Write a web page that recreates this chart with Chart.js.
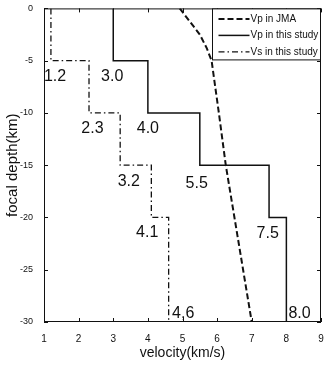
<!DOCTYPE html>
<html>
<head>
<meta charset="utf-8">
<script src="https://cdn.jsdelivr.net/npm/chart.js@4/dist/chart.umd.min.js"></script>
<style>
  body { margin: 0; background: #fff; }
  canvas { display: block; }
</style>
</head>
<body>
<canvas id="chart" width="328" height="366"></canvas>
<script>
// layer boundaries (km) and velocities (km/s)
const layerDepths = [0, -5, -10, -15, -20, -30];
const vpStudy = [3.0, 4.0, 5.5, 7.5, 8.0];
const vsStudy = [1.2, 2.3, 3.2, 4.1, 4.6];
const vpLabels = ["3.0", "4.0", "5.5", "7.5", "8.0"];
const vsLabels = ["1.2", "2.3", "3.2", "4.1", "4,6"];

// JMA curve
const jmaDepths = [0, -1.25, -2.5, -3.8, -5, -10, -15, -20, -25, -30];
const jmaVp = [4.92, 5.21, 5.5, 5.7, 5.84, 6.05, 6.25, 6.5, 6.75, 7.0];

const xTicks = [1, 2, 3, 4, 5, 6, 7, 8, 9];
const yTicks = [0, -5, -10, -15, -20, -25, -30];

function stepPoints(vel) {
  const pts = [];
  for (let i = 0; i < vel.length; i++) {
    pts.push({ x: vel[i], y: layerDepths[i] });
    pts.push({ x: vel[i], y: layerDepths[i + 1] });
  }
  return pts;
}

const font = "'Liberation Sans', Arial, sans-serif";

// frame, inward ticks, value labels and legend
const decor = {
  id: "decor",
  afterDraw(chart) {
    const { ctx, chartArea: a, scales } = chart;
    ctx.save();
    ctx.strokeStyle = "#111";
    ctx.lineWidth = 1;
    ctx.strokeRect(a.left + 0.5, a.top + 0.5, a.right - a.left - 1, a.bottom - a.top - 1);
    ctx.beginPath();
    xTicks.forEach((v) => {
      const px = Math.round(scales.x.getPixelForValue(v)) + 0.5;
      ctx.moveTo(px, a.bottom); ctx.lineTo(px, a.bottom - 4);
      ctx.moveTo(px, a.top); ctx.lineTo(px, a.top + 4);
    });
    yTicks.forEach((v) => {
      const py = Math.round(scales.y.getPixelForValue(v)) + 0.5;
      ctx.moveTo(a.left, py); ctx.lineTo(a.left + 4, py);
      ctx.moveTo(a.right, py); ctx.lineTo(a.right - 4, py);
    });
    ctx.stroke();

    // value labels, placed just under the bottom of each layer
    ctx.fillStyle = "#111";
    ctx.font = "16px " + font;
    ctx.textAlign = "center";
    ctx.textBaseline = "middle";
    const vsOff = [[0.12, -1.5], [0.1, -1.5], [0.25, -1.6], [-0.12, -1.4], [0.42, 0.8]];
    const vpOff = [[-0.03, -1.5], [0, -1.5], [-0.09, -1.8], [-0.04, -1.5], [0.38, 0.8]];
    vsStudy.forEach((v, i) => {
      ctx.fillText(vsLabels[i], scales.x.getPixelForValue(v + vsOff[i][0]),
        scales.y.getPixelForValue(layerDepths[i + 1] + vsOff[i][1]));
    });
    vpStudy.forEach((v, i) => {
      ctx.fillText(vpLabels[i], scales.x.getPixelForValue(v + vpOff[i][0]),
        scales.y.getPixelForValue(layerDepths[i + 1] + vpOff[i][1]));
    });

    // legend box in the upper right corner
    const bx = 212.5, by = a.top + 0.5, bw = a.right - 0.5 - bx, bh = 51;
    ctx.fillStyle = "#fff";
    ctx.fillRect(bx, by, bw, bh);
    ctx.strokeRect(bx, by, bw, bh);
    ctx.font = "10px " + font;
    ctx.textAlign = "left";
    ctx.fillStyle = "#111";
    chart.data.datasets.forEach((ds, i) => {
      const yy = by + 10 + i * 16.5;
      ctx.beginPath();
      ctx.setLineDash(ds.borderDash || []);
      ctx.lineWidth = ds.borderWidth;
      ctx.moveTo(bx + 6, yy);
      ctx.lineTo(bx + 37, yy);
      ctx.stroke();
      ctx.setLineDash([]);
      ctx.fillText(ds.label, bx + 38, yy);
    });
    ctx.restore();
  }
};

new Chart(document.getElementById("chart"), {
  type: "scatter",
  data: {
    datasets: [
      {
        label: "Vp in JMA",
        data: jmaDepths.map((d, i) => ({ x: jmaVp[i], y: d })),
        showLine: true, borderColor: "#111", borderWidth: 2,
        borderDash: [6, 3], pointRadius: 0
      },
      {
        label: "Vp in this study",
        data: stepPoints(vpStudy),
        showLine: true, borderColor: "#111", borderWidth: 1.5,
        pointRadius: 0
      },
      {
        label: "Vs in this study",
        data: stepPoints(vsStudy),
        showLine: true, borderColor: "#111", borderWidth: 1.3,
        borderDash: [6, 3, 1.5, 3], pointRadius: 0
      }
    ]
  },
  options: {
    responsive: false,
    animation: false,
    layout: { padding: { top: 7, right: 7, left: 0, bottom: 0 } },
    plugins: { legend: { display: false }, tooltip: { enabled: false } },
    scales: {
      x: {
        type: "linear", min: 1, max: 9,
        afterBuildTicks: (s) => { s.ticks = xTicks.map((v) => ({ value: v })); },
        afterFit: (s) => { s.height = 44; },
        grid: { display: false },
        border: { display: false },
        ticks: { color: "#111", font: { size: 10, family: font }, padding: 3 },
        title: { display: true, text: "velocity(km/s)", color: "#111",
          font: { size: 14, family: font }, padding: { top: 0 } }
      },
      y: {
        type: "linear", min: -30, max: 0,
        afterBuildTicks: (s) => { s.ticks = yTicks.map((v) => ({ value: v })); },
        afterFit: (s) => { s.width = 44; },
        grid: { display: false },
        border: { display: false },
        ticks: { color: "#111", font: { size: 9, family: font }, padding: 3 },
        title: { display: true, text: "focal depth(km)", color: "#111",
          font: { size: 15, family: font }, padding: { bottom: 2 } }
      }
    }
  },
  plugins: [decor]
});
</script>
</body>
</html>
